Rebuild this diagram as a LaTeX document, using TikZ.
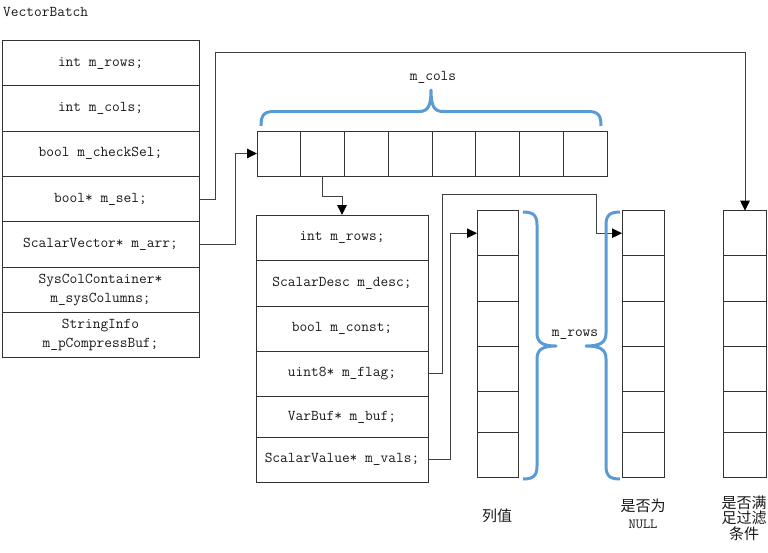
\documentclass[tikz,border=0pt]{standalone}
\usepackage{fontspec}
\newfontfamily\cjk{Noto Sans CJK SC}
\usetikzlibrary{arrows.meta}
\definecolor{bracecol}{RGB}{91,155,213}
\newcommand{\codefont}{\ttfamily\fontsize{15}{19}\selectfont}
\begin{document}
\begin{tikzpicture}[x=1pt,y=-1pt,
  cell/.style={draw=black!80,line width=0.9pt,rectangle,inner sep=0pt,outer sep=0pt,font=\codefont,text=black!90,align=center},
  conn/.style={draw=black!75,line width=1pt},
  arr/.style={conn,-{Triangle[length=10pt,width=9.5pt,color=black]}},
  bracestyle/.style={draw=bracecol,line width=3pt,line join=round},
  lbl/.style={font=\codefont,text=black!90,inner sep=0pt},
  cjklbl/.style={font=\cjk\fontsize{15}{15.5}\selectfont,text=black!90,inner sep=0pt,align=center}]
\useasboundingbox (0,0) rectangle (768,552);

% title
\node[lbl,anchor=west] (title) at (3,12) {VectorBatch};

% VectorBatch struct
\node[cell,minimum width=197,minimum height=45.3] (b1) at (100.5,63.15) {int m\_rows;};
\node[cell,minimum width=197,minimum height=45.3] (b2) at (100.5,108.45) {int m\_cols;};
\node[cell,minimum width=197,minimum height=45.3] (b3) at (100.5,153.75) {bool m\_checkSel;};
\node[cell,minimum width=197,minimum height=45.3] (b4) at (100.5,199.05) {bool* m\_sel;};
\node[cell,minimum width=197,minimum height=45.3] (b5) at (100.5,244.35) {ScalarVector* m\_arr;};
\node[cell,minimum width=197,minimum height=45.3] (b6) at (100.5,289.65) {SysColContainer*\\m\_sysColumns;};
\node[cell,minimum width=197,minimum height=45.3] (b7) at (100.5,334.95) {StringInfo\\m\_pCompressBuf;};

% column array
\foreach \i in {1,...,8}
  \node[cell,minimum width=43.75,minimum height=45] (a\i) at ({257+43.75*(\i-0.5)},153.5) {};

% ScalarVector struct
\node[cell,minimum width=172,minimum height=45.5] (s1) at (342,237.75) {int m\_rows;};
\node[cell,minimum width=172,minimum height=45.5] (s2) at (342,283.25) {ScalarDesc m\_desc;};
\node[cell,minimum width=172,minimum height=45] (s3) at (342,328.5) {bool m\_const;};
\node[cell,minimum width=172,minimum height=45.5] (s4) at (342,373.75) {uint8* m\_flag;};
\node[cell,minimum width=172,minimum height=41] (s5) at (342,417) {VarBuf* m\_buf;};
\node[cell,minimum width=172,minimum height=44.5] (s6) at (342,459.75) {ScalarValue* m\_vals;};

% vertical arrays
\foreach \i/\y/\h in {1/233.2/45,2/278.35/45.3,3/323.5/45,4/368.85/45.7,5/412/40.6,6/455/45.4} {
  \node[cell,minimum width=41,minimum height=\h] (v\i) at (497.5,\y) {};
  \node[cell,minimum width=42,minimum height=\h] (n\i) at (643,\y) {};
  \node[cell,minimum width=43.5,minimum height=\h] (f\i) at (745,\y) {};
}

% connectors
\coordinate (selturn) at (215,52.5);
\draw[arr] (b4.east) -| (selturn) -| (f1.north);
\draw[arr] (b5.east) -- ++(36,0) |- (a1.west);
\draw[arr] (a2.south) -- ++(0,20.7) -| (s1.north);
\coordinate (flagturn) at (596,194);
\draw[arr] (s4.east) -- ++(14,0) |- (flagturn) |- (n1.west);
\draw[arr] (s6.east) -- ++(22,0) |- (v1.west);

% braces
\draw[bracestyle] (261,126) .. controls (261,115) and (264,111.5) .. (274,111.5) -- (419,111.5)
  .. controls (428,111.5) and (431,106) .. (431,90)
  .. controls (431,106) and (434,111.5) .. (443,111.5) -- (588,111.5)
  .. controls (598,111.5) and (601,115) .. (601,126);
\node[lbl] (mcols) at (433,77) {m\_cols};

\draw[bracestyle] (523,212) .. controls (533,212) and (537,215) .. (537,225) -- (537,333)
  .. controls (537,342) and (542,346) .. (556,346)
  .. controls (542,346) and (537,350) .. (537,359) -- (537,466)
  .. controls (537,476) and (533,479) .. (523,479);
\draw[bracestyle] (620,212) .. controls (610,212) and (606,215) .. (606,225) -- (606,333)
  .. controls (606,342) and (601,346) .. (586,346)
  .. controls (601,346) and (606,350) .. (606,359) -- (606,466)
  .. controls (606,476) and (610,479) .. (620,479);
\node[lbl] (mrows) at (575,335) {m\_rows};

% labels below
\node[cjklbl] (lv) at (497,516) {列值};
\node[cjklbl] (ln) at (643,514) {是否为\\[1pt]{\ttfamily\fontsize{14}{15}\selectfont NULL}};
\node[cjklbl] (lf) at (744,518) {是否满\\足过滤\\条件};
\end{tikzpicture}
\end{document}
